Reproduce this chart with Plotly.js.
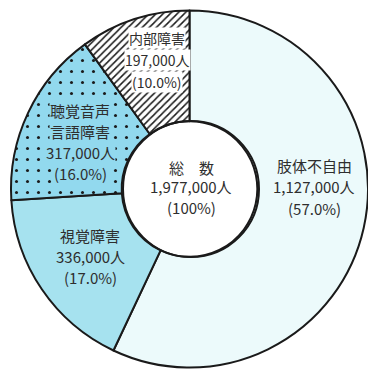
<!DOCTYPE html>
<html>
<head>
<meta charset="utf-8">
<script src="https://cdn.plot.ly/plotly-3.0.1.min.js"></script>
<style>
html,body{margin:0;padding:0;background:#fff;overflow:hidden;}
#chart{width:368px;height:376px;}
</style>
</head>
<body>
<div id="chart"></div>
<script>
// Data
var categories = ['肢体不自由', '視覚障害', '聴覚音声|言語障害', '内部障害'];
var counts = [1127000, 336000, 317000, 197000];
var totalLabel = '総　数';

// Styles
var sliceColors = ['#ecfafb', '#a6e2ef', '#92d9ee', '#ffffff'];
var sliceShapes = ['', '', '.', '/'];
// label block: centre x and the y of the first line (pixels), line step
var labelX = [314, 90, 80, 157];
var labelTop = [165, 235, 110, 38];
var labelStep = [21.5, 21, 21, 22];
var labelSize = [15, 15, 15, 14];
var labelBg = ['rgba(0,0,0,0)', 'rgba(0,0,0,0)', '#92d9ee', '#ffffff'];

var W = 368, H = 376;
var M = {l: 11, r: 0, t: 10, b: 8};
function px2x(px){ return (px - M.l) / (W - M.l - M.r); }
function px2y(py){ return 1 - (py - M.t) / (H - M.t - M.b); }

function fmt(n){ return n.toString().replace(/\B(?=(\d{3})+(?!\d))/g, ','); }
var total = counts.reduce(function(a,b){return a+b;}, 0);

var annotations = [];
function addBlock(lines, cx, top, step, size, bg){
  lines.forEach(function(t, k){
    annotations.push({
      text: t,
      xref: 'paper', yref: 'paper',
      x: px2x(cx), y: px2y(top + k * step),
      xanchor: 'center', yanchor: 'middle',
      showarrow: false,
      font: {family: 'Noto Sans CJK JP, sans-serif', size: size, color: '#2e2e2e'},
      bgcolor: bg, borderpad: 0
    });
  });
}
categories.forEach(function(c, i){
  var pct = (counts[i] / total * 100).toFixed(1);
  var lines = c.split('|').concat([fmt(counts[i]) + '人', '(' + pct + '%)']);
  addBlock(lines, labelX[i], labelTop[i], labelStep[i], labelSize[i], labelBg[i]);
});
addBlock([totalLabel, fmt(total) + '人', '(100%)'], 191, 167, 20, 15, 'rgba(0,0,0,0)');

var trace = {
  type: 'pie',
  labels: categories,
  values: counts,
  sort: false,
  direction: 'clockwise',
  rotation: 0,
  hole: 0.38,
  textinfo: 'none',
  hoverinfo: 'none',
  showlegend: false,
  marker: {
    colors: sliceColors,
    line: {color: '#1a1a1a', width: 2},
    pattern: {shape: sliceShapes, fgcolor: '#1a1a1a', bgcolor: sliceColors, size: [8, 8, 11, 5], solidity: [0.2, 0.2, 0.06, 0.3]}
  }
};

var layout = {
  width: W, height: H,
  margin: M,
  paper_bgcolor: '#ffffff',
  plot_bgcolor: '#ffffff',
  showlegend: false,
  annotations: annotations,
  shapes: [{
    type: 'circle', xref: 'paper', yref: 'paper',
    x0: px2x(191 - 68), x1: px2x(191 + 68), y0: px2y(189 + 68), y1: px2y(189 - 68),
    line: {color: '#1a1a1a', width: 2}, fillcolor: 'rgba(0,0,0,0)', layer: 'above'
  }]
};

Plotly.newPlot('chart', [trace], layout, {displayModeBar: false, staticPlot: true});
</script>
</body>
</html>
